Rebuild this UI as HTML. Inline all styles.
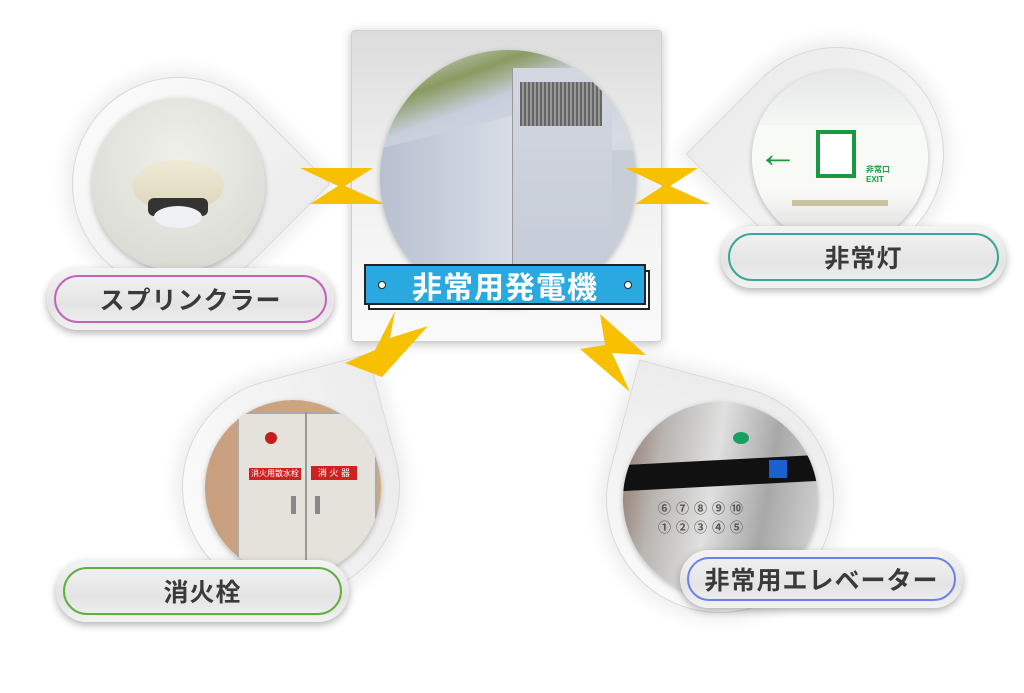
<!DOCTYPE html>
<html><head><meta charset="utf-8"><style>
*{margin:0;padding:0;box-sizing:border-box}
body{width:1024px;height:693px;background:#fff;position:relative;overflow:hidden;font-family:"Liberation Sans","Noto Sans CJK JP",sans-serif}
.a{position:absolute}
.drop{position:absolute;background:linear-gradient(180deg,#ececec,#fafafa);border-radius:0 50% 50% 50%;box-shadow:0 0 18px 6px rgba(0,0,0,.08);border:1px solid #d8d8d8}
.ph{position:absolute;border-radius:50%;overflow:hidden;box-shadow:0 2px 6px rgba(0,0,0,.25)}
.pill{position:absolute;border-radius:32px;background:linear-gradient(180deg,#f4f4f4,#e4e4e4 60%,#f2f2f2);box-shadow:0 3px 8px rgba(0,0,0,.3);display:flex;align-items:center;justify-content:center}
.pill span{display:block;position:absolute;left:7px;top:7px;right:7px;bottom:7px;border-radius:26px;border:2px solid}
.pill b{position:relative;font-size:25px;color:#3a3a3a;font-weight:bold;letter-spacing:1px}
</style></head><body>

<div class="drop" style="left:72px;top:77px;width:214px;height:214px;transform:rotate(135deg)"></div>
<div class="drop" style="left:730px;top:47px;width:214px;height:214px;transform:rotate(-45deg)"></div>
<div class="drop" style="left:182px;top:378px;width:218px;height:218px;transform:rotate(75deg)"></div>
<div class="drop" style="left:606px;top:385px;width:228px;height:228px;transform:rotate(15deg)"></div>

<div class="a" style="left:351px;top:30px;width:311px;height:312px;background:linear-gradient(180deg,#dcdcdc,#f0f0f0 45%,#fafafa);border:1px solid #d0d0d0;border-radius:4px;box-shadow:0 2px 10px rgba(0,0,0,.25)"></div>
<div class="ph" style="left:380px;top:50px;width:256px;height:256px;background:linear-gradient(160deg,#dde8f4 0%,#8a9a60 16%,#c8cedc 26%,#d6dbe4 50%,#b4bccc 100%)">
  <div class="a" style="left:0;top:82px;width:132px;height:200px;background:linear-gradient(90deg,#b8c0d0,#d8dde6);transform:skewY(-14deg)"></div>
  <div class="a" style="left:132px;top:18px;width:100px;height:240px;background:linear-gradient(180deg,#d2d7e0,#c4cad6);border-left:1px solid #999"></div>
  <div class="a" style="left:140px;top:32px;width:82px;height:44px;background:repeating-linear-gradient(90deg,#666 0 2px,#999 2px 4px)"></div>
  <div class="a" style="left:232px;top:100px;width:30px;height:160px;background:#c8ced8"></div>
</div>
<div class="a" style="left:368px;top:270px;width:282px;height:40px;background:#fff;border:2px solid #222"></div>
<div class="a" style="left:364px;top:264px;width:282px;height:41px;background:#2aa9e0;border:2px solid #222;color:#fff;font-size:30px;font-weight:bold;display:flex;align-items:center;justify-content:center;letter-spacing:1px">非常用発電機
  <i class="a" style="left:12px;top:15px;width:8px;height:8px;border-radius:50%;background:#fff;border:1.5px solid #222"></i>
  <i class="a" style="right:12px;top:15px;width:8px;height:8px;border-radius:50%;background:#fff;border:1.5px solid #222"></i>
</div>

<svg class="a" style="left:0;top:0" width="1024" height="693">
<g fill="#f7c000">
<polygon points="300,168 373,168 345,186 385,204 310,204 338,186"/>
<polygon points="625,168 698,168 670,186 710,204 635,204 663,186"/>
<polygon points="395,311 390,338 428,326 382,377 345,363 375,350"/>
<polygon points="600,314 646,355 612,353 630,392 580,349 605,345"/>
</g></svg>

<div class="ph" style="left:92px;top:98px;width:173px;height:173px;background:radial-gradient(circle at 50% 35%,#f0f0ea,#d4d6ce)">
  <div class="a" style="left:40px;top:62px;width:92px;height:52px;border-radius:46px/26px;background:linear-gradient(180deg,#eeead6,#ddd6bc)"></div>
  <div class="a" style="left:56px;top:100px;width:60px;height:18px;background:#333;border-radius:6px"></div>
  <div class="a" style="left:62px;top:108px;width:48px;height:22px;border-radius:50%;background:#eef0f4"></div>
</div>
<div class="ph" style="left:752px;top:70px;width:176px;height:176px;background:linear-gradient(180deg,#e6e8e8 0,#f4f6f4 30%,#f8f8f6 70%,#d8dcd8 100%)">
  <div class="a" style="left:0;top:55px;width:176px;height:62px;background:#f8faf6"></div>
  <div class="a" style="left:6px;top:64px;font-size:40px;color:#1a9a40;font-weight:bold;line-height:40px">←</div>
  <div class="a" style="left:64px;top:60px;width:40px;height:48px;border:4px solid #1a9a40;background:#fff"></div>
  <div class="a" style="left:114px;top:94px;font-size:8px;color:#1a9a40;font-weight:bold">非常口<br>EXIT</div>
  <div class="a" style="left:40px;top:130px;width:96px;height:6px;background:#c9c2a0"></div>
</div>
<div class="ph" style="left:205px;top:400px;width:176px;height:176px;background:linear-gradient(90deg,#c8a080,#d0a880)">
  <div class="a" style="left:32px;top:12px;width:140px;height:160px;background:#e4e2da;border:2px solid #aaa"></div>
  <div class="a" style="left:100px;top:12px;width:2px;height:160px;background:#999"></div>
  <div class="a" style="left:44px;top:68px;width:52px;height:12px;background:#d02020;color:#fff;font-size:8px;text-align:center;line-height:12px">消火用散水栓</div>
  <div class="a" style="left:106px;top:66px;width:46px;height:14px;background:#d02020;color:#fff;font-size:9px;text-align:center;line-height:14px">消 火 器</div>
  <div class="a" style="left:60px;top:32px;width:12px;height:12px;border-radius:50%;background:#c02020"></div>
  <div class="a" style="left:86px;top:96px;width:5px;height:18px;background:#888"></div>
  <div class="a" style="left:110px;top:96px;width:5px;height:18px;background:#888"></div>
</div>
<div class="ph" style="left:623px;top:402px;width:195px;height:195px;background:linear-gradient(100deg,#8a7060 0,#b8b4b0 20%,#e0e0e0 45%,#a8a8a8 70%,#d8d8d8 100%)">
  <div class="a" style="left:0;top:58px;width:195px;height:26px;background:#111;transform:skewY(-3deg)"></div>
  <div class="a" style="left:146px;top:58px;width:18px;height:18px;background:#1a60d0"></div>
  <div class="a" style="left:110px;top:30px;width:16px;height:12px;border-radius:50%;background:#18a060"></div>
  <div class="a" style="left:35px;top:96px;font-size:13px;color:#555;letter-spacing:5px;font-weight:bold">⑥⑦⑧⑨⑩<br>①②③④⑤</div>
</div>

<div class="pill" style="left:47px;top:268px;width:287px;height:62px"><span style="border-color:#c265b8"></span><b>スプリンクラー</b></div>
<div class="pill" style="left:721px;top:226px;width:285px;height:62px"><span style="border-color:#3aa898"></span><b>非常灯</b></div>
<div class="pill" style="left:56px;top:560px;width:293px;height:62px"><span style="border-color:#60b040"></span><b>消火栓</b></div>
<div class="pill" style="left:680px;top:550px;width:283px;height:58px"><span style="border-color:#6a80e8"></span><b>非常用エレベーター</b></div>
</body></html>
